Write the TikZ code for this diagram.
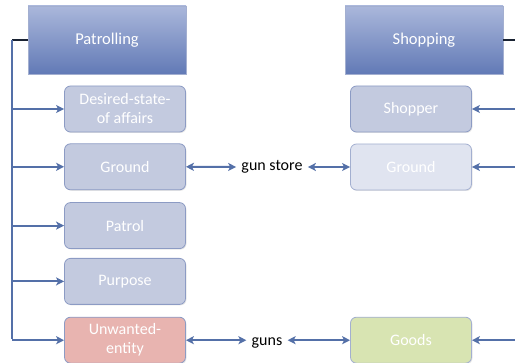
\documentclass[tikz,border=0pt]{standalone}
\usepackage{fontspec}
\setmainfont{Carlito}
\usetikzlibrary{positioning,arrows.meta,shadows}
\definecolor{framebl}{HTML}{8C9BC4}
\definecolor{linebl}{HTML}{5470A8}
\definecolor{roleblue}{HTML}{C3CADF}
\definecolor{frametop}{HTML}{AAB7DB}
\definecolor{framebot}{HTML}{627AB6}
\begin{document}
\begin{tikzpicture}[
            x=1pt, y=-1pt,
            every node/.style={font=\fontsize{16}{19}\selectfont, align=center},
            framebox/.style={draw=framebl!80, rectangle, minimum width=158pt, minimum height=68pt,
                top color=frametop, bottom color=framebot, text=white,
                font=\fontsize{16.5}{19}\selectfont, drop shadow={opacity=0.25, shadow xshift=1pt, shadow yshift=-1pt}},
            rolebox/.style={draw=framebl, line width=0.8pt, rectangle, rounded corners=6pt, minimum width=121pt, minimum height=46pt,
                fill=roleblue, text=white, drop shadow={opacity=0.2, shadow xshift=1pt, shadow yshift=-1pt}},
            filler/.style={outer sep=2pt},
            link/.style={draw=linebl, line width=2pt, -{Stealth[length=8pt,width=8pt,inset=2pt]}},
            twoway/.style={link, {Stealth[length=8pt,width=8pt,inset=2pt]}-{Stealth[length=8pt,width=8pt,inset=2pt]}}
        ]
        \useasboundingbox (0,0) rectangle (515,363);

        % frames
        \node[framebox] (patrolling) at (107,40) {Patrolling};
        \node[framebox] (shopping) at (424,40) {Shopping};

        % roles of Patrolling
        \node[rolebox] (desired) at (125,109) {Desired-state-\\of affairs};
        \node[rolebox, below=11pt of desired] (ground) {Ground};
        \node[rolebox, below=12pt of ground] (patrol) {Patrol};
        \node[rolebox, below=9pt of patrol] (purpose) {Purpose};
        \node[rolebox, below=12pt of purpose, fill={rgb,255:red,232;green,180;blue,176}] (unwanted) {Unwanted-\\entity};

        % roles of Shopping
        \node[rolebox] (shopper) at (411,109) {Shopper};
        \node[rolebox, fill={rgb,255:red,224;green,228;blue,240}, draw=framebl!80] (groundB) at (411,167) {Ground};
        \node[rolebox, fill={rgb,255:red,216;green,228;blue,178}, draw=framebl!80] (goods) at (411,0 |- unwanted) {Goods};

        % fillers
        \node[filler] (gunstore) at (272,167) {gun store};
        \node[filler, anchor=base] (guns) at (267,346) {guns};

        % left trunk
        \coordinate (trunk) at (12,40);
        \draw[draw=black!70!linebl, line width=2pt] (patrolling.west) -- (trunk);
        \draw[draw=linebl, line width=2pt] (trunk) -- (12,339);
        \foreach \r in {desired, ground, patrol, purpose, unwanted}
            \draw[link] (12,0 |- \r.west) -- (\r.west);

        % right trunk
        \coordinate (rtrunk) at (519,40);
        \draw[draw=black!70!linebl, line width=2pt] (shopping.east) -- (rtrunk);
        \draw[draw=linebl, line width=2pt] (rtrunk) -- (519,339);
        \foreach \r in {shopper, groundB, goods}
            \draw[link] (519,0 |- \r.east) -- (\r.east);

        % fillers linked to roles
        \draw[twoway] (ground.east) -- (gunstore.west);
        \draw[twoway] (gunstore.east) -- (groundB.west);
        \draw[twoway] (unwanted.east) -- (unwanted.east -| guns.west);
        \draw[twoway] (goods.west -| guns.east) -- (goods.west);

        \end{tikzpicture}
\end{document}
